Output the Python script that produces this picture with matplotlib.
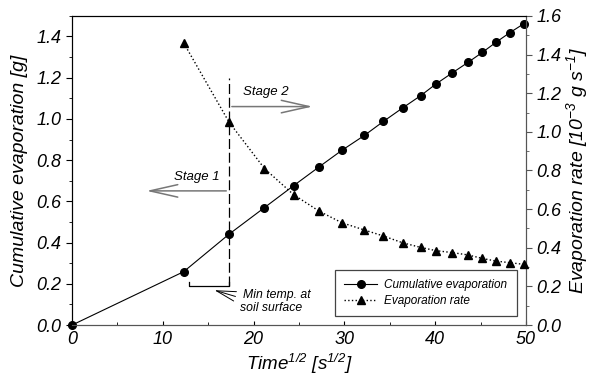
import matplotlib
matplotlib.use("Agg")
import matplotlib.pyplot as plt
from matplotlib.ticker import MultipleLocator

plt.rcParams["font.family"] = ["Liberation Sans", "DejaVu Sans"]
plt.rcParams["font.style"] = "italic"
plt.rcParams["mathtext.fontset"] = "custom"
plt.rcParams["mathtext.it"] = "Liberation Sans:italic"
plt.rcParams["mathtext.rm"] = "Liberation Sans:italic"

# sqrt(time) [s^1/2]
t = [0, 12.3, 17.3, 21.2, 24.4, 27.2, 29.7, 32.2, 34.3, 36.4, 38.4,
     40.1, 41.9, 43.6, 45.2, 46.7, 48.2, 49.8]
cum_evap = [0.0, 0.259, 0.441, 0.570, 0.676, 0.767, 0.847, 0.920, 0.988,
            1.053, 1.113, 1.170, 1.224, 1.274, 1.323, 1.372, 1.418, 1.463]

t_rate = t[1:]
evap_rate = [1.46, 1.05, 0.81, 0.675, 0.59, 0.53, 0.492, 0.461, 0.426,
             0.402, 0.385, 0.375, 0.363, 0.345, 0.331, 0.323, 0.314]

fig = plt.figure(figsize=(5.93, 3.78), dpi=100)
ax = fig.add_axes([0.1214, 0.140, 0.7656, 0.818])
ax2 = ax.twinx()

l1, = ax.plot(t, cum_evap, "-", color="black", lw=0.8, marker="o", ms=5.5,
              clip_on=False, zorder=3, label="Cumulative evaporation")
l2, = ax2.plot(t_rate, evap_rate, ":", color="black", lw=1.0, marker="^", ms=5.5,
               clip_on=False, zorder=3, label="Evaporation rate")

ax.set_xlim(0, 50)
ax.set_ylim(0, 1.5)
ax2.set_ylim(0, 1.6)

ax.xaxis.set_major_locator(MultipleLocator(10))
ax.xaxis.set_minor_locator(MultipleLocator(5))
ax.yaxis.set_major_locator(MultipleLocator(0.2))
ax.yaxis.set_minor_locator(MultipleLocator(0.1))
ax2.yaxis.set_major_locator(MultipleLocator(0.2))
ax2.yaxis.set_minor_locator(MultipleLocator(0.1))

ax.tick_params(axis="x", which="both", direction="in", length=3, labelsize=13, pad=4)
ax.tick_params(axis="x", which="minor", length=2)
ax.tick_params(axis="y", which="major", direction="out", length=4, labelsize=13)
ax.tick_params(axis="y", which="minor", direction="out", length=2)
ax2.tick_params(axis="y", which="major", direction="out", length=4, labelsize=13,
                color="#555555")
ax2.tick_params(axis="y", which="minor", direction="out", length=2, color="#555555")

for a in (ax, ax2):
    a.spines["bottom"].set_color("#555555")
    a.spines["right"].set_color("#555555")
    a.spines["left"].set_color("black")
    a.spines["top"].set_color("black")

ax.set_xlabel(r"Time$^{1/2}$ [s$^{1/2}$]", fontsize=13.5, labelpad=3)
ax.set_ylabel("Cumulative evaporation [g]", fontsize=14, labelpad=6)
ax2.set_ylabel(r"Evaporation rate [10$^{-3}$ g s$^{-1}$]", fontsize=14, labelpad=2)

# stage markers
ax.plot([17.3, 17.3], [0.19, 1.2], color="black", lw=0.9, dashes=(8, 3), zorder=2)
ax.plot([12.9, 12.9, 17.3, 17.3], [0.21, 0.19, 0.19, 0.21], color="black", lw=0.9)

arrow = dict(arrowstyle="->,head_length=2.0,head_width=0.45", color="#777777", lw=1.1)
ax.annotate("", xy=(7.9, 0.651), xytext=(17.3, 0.651), arrowprops=arrow)
ax.annotate("", xy=(26.8, 1.06), xytext=(17.3, 1.06), arrowprops=arrow)
ax.text(13.7, 0.72, "Stage 1", fontsize=9.5, ha="center", va="center")
ax.text(21.4, 1.13, "Stage 2", fontsize=9.5, ha="center", va="center")

ax.annotate("", xy=(15.4, 0.173), xytext=(18.3, 0.135),
            arrowprops=dict(arrowstyle="->,head_length=1.4,head_width=0.35",
                            color="black", lw=0.7))
ax.text(18.8, 0.148, "Min temp. at", fontsize=8.8, ha="left", va="center")
ax.text(18.5, 0.083, "soil surface", fontsize=8.8, ha="left", va="center")

leg = ax2.legend([l1, l2], ["Cumulative evaporation", "Evaporation rate"],
                 loc="lower right", bbox_to_anchor=(0.993, 0.01), fontsize=8.5,
                 fancybox=False, framealpha=1, edgecolor="#444444",
                 handlelength=2.8, borderpad=0.8, labelspacing=0.3,
                 handletextpad=0.6)
leg.get_frame().set_linewidth(0.9)

fig.savefig("out.png", dpi=100)
